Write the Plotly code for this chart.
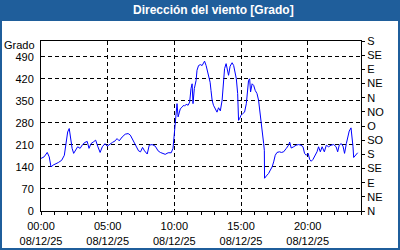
import plotly.graph_objects as go

# ---- data ----
times = ["00:00","00:14","00:28","00:37","00:45","00:55","01:18","01:33","01:45","01:51",
         "02:00","02:07","02:13","02:20","02:27","02:36","02:45","02:56","03:07","03:18",
         "03:28","03:36","03:45","03:55","04:06","04:15","04:26","04:36","04:48","04:58",
         "05:07","05:22","05:34","05:42","05:52","06:05","06:19","06:32","06:42","06:54",
         "07:08","07:19","07:28","07:37","07:46","07:58","08:07","08:20","08:34","08:47",
         "08:57","09:12","09:19","09:32","09:46","09:54","09:59","10:03","10:09","10:12",
         "10:17","10:23","10:27","10:35","10:42","10:46","10:53","11:02","11:09","11:15",
         "11:20","11:24","11:30","11:38","11:42","11:49","11:57","12:05","12:12","12:16",
         "12:23","12:30","12:34","12:41","12:45","12:50","12:56","13:05","13:12","13:19",
         "13:27","13:35","13:40","13:46","13:53","13:58","14:04","14:11","14:20","14:27",
         "14:34","14:39","14:45","14:49","14:54","15:00","15:07","15:16","15:24","15:28",
         "15:34","15:39","15:43","15:50","15:57","16:04","16:12","16:19","16:27","16:35",
         "16:42","16:45","16:46","16:57","17:04","17:12","17:20","17:27","17:34","17:42",
         "17:53","18:02","18:12","18:24","18:34","18:39","18:46","18:57","19:08","19:19",
         "19:30","19:39","19:46","19:54","20:02","20:09","20:16","20:24","20:34","20:42",
         "20:49","20:57","21:05","21:15","21:24","21:34","21:45","21:57","22:08","22:15",
         "22:22","22:31","22:39","22:46","22:54","23:00","23:07","23:15","23:20","23:24",
         "23:27","23:34","23:45"]
direction = [167,172,186,172,140,146,154,161,177,204,
             251,262,235,199,183,193,204,199,211,218,
             221,199,214,219,225,206,186,204,214,206,
             211,218,223,230,223,235,244,246,241,225,
             209,191,188,202,191,181,209,211,206,191,
             186,183,180,185,185,199,241,283,325,341,
             299,320,325,330,336,333,339,336,346,389,
             404,341,389,415,447,462,465,462,470,476,
             462,441,436,409,383,352,336,325,314,328,
             318,352,404,452,468,447,431,460,471,462,
             441,420,373,288,294,304,309,314,341,373,
             415,420,378,404,399,383,373,352,309,251,
             214,193,104,114,119,130,140,156,177,186,
             188,186,188,199,209,219,200,204,209,211,
             209,204,183,177,183,164,158,164,175,188,
             204,188,204,188,209,204,209,211,204,188,
             209,214,206,183,214,235,254,264,235,204,
             170,177,185]
date = "2025-12-08"
x_ticks = ["00:00", "05:00", "10:00", "15:00", "20:00"]
x_tick_date = "08/12/25"
left_ticks = [0, 70, 140, 210, 280, 350, 420, 490]
right_ticks = [0, 45, 90, 135, 180, 225, 270, 315, 360, 405, 450, 495, 540]
right_labels = ["N", "NE", "E", "SE", "S", "SO", "O", "NO", "N", "NE", "E", "SE", "S"]
title = "Dirección del viento [Grado]"
unit = "Grado"

xs = [f"{date} {t}" for t in times]

W, H = 400, 250
L, R, T, B = 41, 39, 41, 39
PW, PH = W - L - R, H - T - B
BLUE = "#1f5e9b"
FONT = "Liberation Sans"

def px(x):
    return (x - L) / PW

def py(y):
    return (H - B - y) / PH

fig = go.Figure()
fig.add_trace(go.Scatter(x=xs, y=direction, mode="lines",
                         line=dict(color="#0000ff", width=1), showlegend=False))
# invisible trace on the right axis
fig.add_trace(go.Scatter(x=[xs[0]], y=[None], yaxis="y2", showlegend=False,
                         hoverinfo="skip"))

fig.update_layout(
    width=W, height=H,
    margin=dict(l=L, r=R, t=T, b=B, pad=0, autoexpand=False),
    paper_bgcolor="white", plot_bgcolor="white",
    font=dict(family=FONT, size=11, color="black"),
    xaxis=dict(type="date", range=[f"{date} 00:00", "2025-12-09 00:00"],
               tickvals=[f"{date} {t}" for t in x_ticks],
               ticktext=[f"{t}<br>{x_tick_date}" for t in x_ticks],
               ticks="outside", ticklen=3, tickcolor="black",
               showgrid=True, gridcolor="black", gridwidth=1, griddash="4px,3px",
               minor=dict(dtick=3600000, ticks="outside", ticklen=3, tickcolor="black",
                          showgrid=False),
               showline=True, linecolor="black", linewidth=1, mirror=True,
               zeroline=False, fixedrange=True, tickangle=0, ticklabelstandoff=2,
               automargin=False),
    yaxis=dict(range=[0, 540], tickvals=left_ticks, ticks="",
               showgrid=True, gridcolor="black", gridwidth=1, griddash="4px,3px",
               showline=True, linecolor="black", linewidth=1, mirror=True,
               zeroline=False, ticklabelstandoff=4, automargin=False),
    yaxis2=dict(range=[0, 540], overlaying="y", side="right",
                tickvals=right_ticks, ticktext=right_labels,
                ticks="outside", ticklen=3, tickcolor="black",
                showgrid=False, zeroline=False, showline=False,
                ticklabelstandoff=0, automargin=False),
    shapes=[
        dict(type="rect", xref="paper", yref="paper", x0=px(0), x1=px(W),
             y0=py(0), y1=py(21), fillcolor=BLUE, line=dict(width=0), layer="below"),
        dict(type="rect", xref="paper", yref="paper", x0=px(1), x1=px(W - 1),
             y0=py(1), y1=py(H - 1), fillcolor="rgba(0,0,0,0)",
             line=dict(color=BLUE, width=2), layer="above"),
    ],
    annotations=[
        dict(text=f"<b>{title}</b>", xref="paper", yref="paper", x=px(213), y=py(10.5),
             xanchor="center", yanchor="middle", showarrow=False,
             font=dict(family=FONT, size=12, color="white")),
        dict(text=unit, xref="paper", yref="paper", x=px(37), y=py(45),
             xanchor="right", yanchor="middle", showarrow=False,
             font=dict(family=FONT, size=11, color="black")),
    ],
)

fig.write_html("out.html")
